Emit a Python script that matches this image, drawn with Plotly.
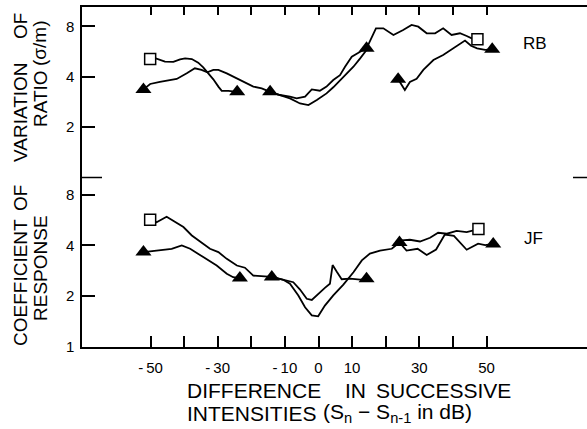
import plotly.graph_objects as go

# ---------------- data (x: S_n - S_n-1 in dB, y: coefficient of variation) ----------------
# Subject RB (upper panel)
RB_A_x = [-50.1, -48.4, -45.7, -43.2, -41.2, -39.7, -37.7, -35.8, -34.3, -32.8, -31.3, -29.8, -28.8, -26.8, -24.2]
RB_A_y = [5.10, 5.15, 4.92, 4.90, 5.08, 5.15, 5.10, 4.85, 4.55, 4.19, 3.86, 3.49, 3.29, 3.29, 3.25]
RB_B_x = [-52.1, -50.1, -47.2, -44.7, -42.2, -39.2, -36.8, -34.8, -33.1, -31.3, -29.8, -27.3, -24.3, -21.9, -19.4, -16.9, -14.4]
RB_B_y = [3.36, 3.62, 3.73, 3.79, 3.88, 4.19, 4.49, 4.39, 4.25, 4.39, 4.39, 4.19, 3.91, 3.68, 3.49, 3.41, 3.25]
RB_C_x = [-14.4, -11.5, -8.5, -6.5, -4.0, -2.0, 0.4, 2.4, 4.4, 6.4, 7.9, 9.9, 12.4, 14.3]
RB_C_y = [3.25, 3.11, 3.04, 2.97, 3.04, 3.36, 3.30, 3.49, 3.82, 4.09, 4.59, 5.27, 5.64, 5.91]
RB_D_x = [-14.4, -8.5, -5.5, -3.0, -0.5, 2.4, 4.4, 7.4, 10.4, 12.4, 14.3]
RB_D_y = [3.25, 2.97, 2.77, 2.71, 2.90, 3.18, 3.46, 3.97, 4.59, 5.15, 5.78]
RB_E_x = [14.3, 15.8, 17.1, 19.3, 22.3, 25.2, 27.7, 29.7, 32.2, 34.7, 37.1, 39.6, 42.1, 44.1, 45.6, 47.3]
RB_E_y = [5.91, 6.94, 7.78, 7.78, 7.10, 7.60, 8.15, 7.96, 7.27, 7.27, 7.78, 7.10, 7.27, 7.00, 6.78, 6.69]
RB_F_x = [23.7, 25.7, 27.2, 29.2, 31.2, 34.2, 37.1, 40.1, 43.6, 45.4, 47.2, 49.6, 51.7]
RB_F_y = [3.86, 3.33, 3.72, 3.89, 4.39, 5.03, 5.39, 5.94, 6.58, 6.12, 5.91, 5.78, 5.83]
RB_tri_x = [-52.1, -24.2, -14.4, 14.3, 23.7, 51.7]
RB_tri_y = [3.36, 3.25, 3.25, 5.91, 3.86, 5.83]
RB_sq_x = [-50.1, 47.3]
RB_sq_y = [5.10, 6.69]

# Subject JF (lower panel)
JF_A_x = [-50.1, -48.2, -45.2, -42.7, -40.2, -37.7, -35.3, -32.3, -29.8, -27.3, -24.3, -21.9, -19.4, -16.9, -13.9]
JF_A_y = [5.67, 5.49, 5.91, 5.49, 5.14, 4.58, 4.24, 3.82, 3.65, 3.33, 3.04, 2.95, 2.65, 2.62, 2.60]
JF_B_x = [-52.1, -48.2, -43.7, -40.7, -38.2, -34.3, -30.3, -27.3, -25.4, -23.4]
JF_B_y = [3.65, 3.73, 3.82, 4.00, 3.82, 3.41, 3.04, 2.72, 2.59, 2.56]
JF_C_x = [-13.9, -10.5, -7.5, -5.5, -3.5, -2.0, -0.1, 1.9, 3.4, 4.2, 5.4, 6.9, 9.4, 12.4, 14.3]
JF_C_y = [2.60, 2.50, 2.42, 2.19, 1.93, 1.90, 2.07, 2.24, 2.37, 3.06, 2.80, 2.52, 2.54, 2.51, 2.54]
JF_D_x = [-13.9, -10.5, -8.5, -6.0, -4.0, -2.0, -0.1, 1.9, 4.4, 7.4, 10.4, 12.9, 15.3, 18.3, 21.8, 24.1]
JF_D_y = [2.60, 2.50, 2.37, 2.02, 1.72, 1.54, 1.52, 1.76, 2.02, 2.34, 2.77, 3.26, 3.58, 3.73, 3.82, 4.16]
JF_G_x = [24.1, 24.8, 27.2, 30.2, 33.2, 35.6, 38.2, 41.1, 44.1, 47.6]
JF_G_y = [4.16, 4.28, 4.32, 4.22, 4.44, 4.75, 4.69, 4.87, 4.79, 5.00]
JF_H_x = [24.1, 26.2, 29.5, 32.2, 35.0, 37.6, 40.3, 44.1, 47.5, 49.6, 52.0]
JF_H_y = [4.16, 3.73, 3.82, 3.51, 3.78, 4.64, 4.55, 3.77, 4.10, 4.02, 4.08]
JF_tri_x = [-52.1, -23.4, -13.9, 14.3, 24.1, 52.0]
JF_tri_y = [3.65, 2.56, 2.60, 2.54, 4.16, 4.08]
JF_sq_x = [-50.1, 47.6]
JF_sq_y = [5.67, 5.00]

X_TICKS = [-50, -40, -30, -20, -10, 0, 10, 20, 30, 40, 50]
X_TICK_TEXT = ["-\u200950", " ", "-\u200930", " ", "-\u200910", "0", "10", " ", "30", " ", "50"]
Y_TICKS_TOP = [2, 4, 8]
Y_TICKS_BOTTOM = [1, 2, 4, 8]

# ---------------- figure ----------------
W, H = 587, 429
ML, MR, MT, MB = 82, 0, 7, 82
PW, PH = W - ML - MR, H - MT - MB
SPLIT = (347 - 177.5) / PH
FONT = "Liberation Sans"

fig = go.Figure()
LINE = dict(color="black", width=1.8)

def lines(xs, ys, top):
    fig.add_trace(go.Scatter(x=xs, y=ys, mode="lines", line=LINE,
                             xaxis="x2" if top else "x", yaxis="y2" if top else "y",
                             hoverinfo="skip"))

def markers(tx, ty, sx, sy, top):
    ax = dict(xaxis="x2" if top else "x", yaxis="y2" if top else "y")
    fig.add_trace(go.Scatter(x=tx, y=ty, mode="markers",
                             marker=dict(symbol="triangle-up", size=14, color="black",
                                         line=dict(width=0)), hoverinfo="skip", **ax))
    fig.add_trace(go.Scatter(x=sx, y=sy, mode="markers",
                             marker=dict(symbol="square", size=11, color="white",
                                         line=dict(width=1.5, color="black")),
                             hoverinfo="skip", **ax))

for xs, ys in [(RB_A_x, RB_A_y), (RB_B_x, RB_B_y), (RB_C_x, RB_C_y),
               (RB_D_x, RB_D_y), (RB_E_x, RB_E_y), (RB_F_x, RB_F_y)]:
    lines(xs, ys, True)
for xs, ys in [(JF_A_x, JF_A_y), (JF_B_x, JF_B_y), (JF_C_x, JF_C_y),
               (JF_D_x, JF_D_y), (JF_G_x, JF_G_y), (JF_H_x, JF_H_y)]:
    lines(xs, ys, False)
markers(RB_tri_x, RB_tri_y, RB_sq_x, RB_sq_y, True)
markers(JF_tri_x, JF_tri_y, JF_sq_x, JF_sq_y, False)

X_RANGE = [(ML - 318.5) / 3.36, (W - 318.5) / 3.36]
TOP_RANGE = [0, 1.0185]
BOT_RANGE = [0, 1.0044]
tickfont = dict(family=FONT, size=15, color="black")
common_y = dict(type="log", showgrid=False, zeroline=False, showline=True, linecolor="black",
                linewidth=1.5, ticks="inside", ticklen=13, tickwidth=1.5, tickcolor="black",
                tickfont=tickfont, ticklabelstandoff=3)
right_y = dict(type="log", showgrid=False, zeroline=False, showline=False, ticks="inside",
               ticklen=8, tickwidth=1.5, tickcolor="black", showticklabels=False, side="right")

fig.update_layout(
    width=W, height=H, margin=dict(l=ML, r=MR, t=MT, b=MB),
    plot_bgcolor="white", paper_bgcolor="white", showlegend=False,
    font=dict(family=FONT, color="black"),
    xaxis=dict(range=X_RANGE, domain=[0, 1], anchor="y", showgrid=False, zeroline=False,
               showline=True, linecolor="black", linewidth=1.5, ticks="inside", ticklen=11,
               tickwidth=1.5, tickcolor="black", tickvals=X_TICKS, ticktext=X_TICK_TEXT,
               tickfont=tickfont, ticklabelstandoff=6),
    xaxis2=dict(range=X_RANGE, domain=[0, 1], anchor="y2", matches="x", side="top",
                showgrid=False, zeroline=False, showline=True, linecolor="black", linewidth=1.5,
                ticks="inside", ticklen=8, tickwidth=1.5, tickcolor="black", tickvals=X_TICKS,
                showticklabels=False),
    yaxis=dict(domain=[0, SPLIT], range=BOT_RANGE, anchor="x", tickvals=Y_TICKS_BOTTOM,
               ticktext=[str(v) for v in Y_TICKS_BOTTOM], **common_y),
    yaxis2=dict(domain=[SPLIT, 1], range=TOP_RANGE, anchor="x2", tickvals=Y_TICKS_TOP,
                ticktext=[str(v) for v in Y_TICKS_TOP], **common_y),
    yaxis3=dict(overlaying="y2", range=TOP_RANGE, anchor="x2", tickvals=Y_TICKS_TOP, **right_y),
    yaxis4=dict(overlaying="y", range=BOT_RANGE, anchor="x", tickvals=Y_TICKS_BOTTOM[1:], **right_y),
)

# boundary ticks between panels
fig.add_shape(type="line", xref="paper", yref="paper", x0=0, x1=20 / PW, y0=SPLIT, y1=SPLIT,
              line=dict(color="black", width=1.5))
fig.add_shape(type="line", xref="paper", yref="paper", x0=1 - 14 / PW, x1=1, y0=SPLIT, y1=SPLIT,
              line=dict(color="black", width=1.5))

def px_x(p):
    return (p - ML) / PW

def px_y(p):
    return (H - MB - p) / PH

def note(text, x, y, size, angle=0, xanchor="center"):
    fig.add_annotation(text=text, xref="paper", yref="paper", x=px_x(x), y=px_y(y),
                       showarrow=False, textangle=angle, xanchor=xanchor, yanchor="middle",
                       font=dict(family=FONT, size=size, color="black"))

# x-axis title (two lines)
note("DIFFERENCE", 185, 390, 21, xanchor="left")
note("IN", 343, 390, 21, xanchor="left")
note("SUCCESSIVE", 374, 390, 21, xanchor="left")
note("INTENSITIES", 185, 413, 21, xanchor="left")
note("(S<sub>n</sub> \u2212 S<sub>n-1</sub> in dB)", 321, 413, 21, xanchor="left")

# y-axis title (two rotated lines)
note("COEFFICIENT", 20, 283, 19, angle=-90)
note("OF", 20, 198, 19, angle=-90)
note("VARIATION", 20, 112, 19, angle=-90)
note("OF", 20, 26, 19, angle=-90)
note("RESPONSE", 40, 268, 19, angle=-90)
note("RATIO", 40, 99, 19, angle=-90)
note("(\u03c3/m)", 40, 43, 19, angle=-90)

# subject labels
note("RB", 535, 44, 17)
note("JF", 533, 238, 17)

fig.write_html("out.html", config={"displayModeBar": False},
               post_script="document.body.style.margin='0';document.body.style.padding='0';"
                           "document.documentElement.style.overflow='hidden';")
